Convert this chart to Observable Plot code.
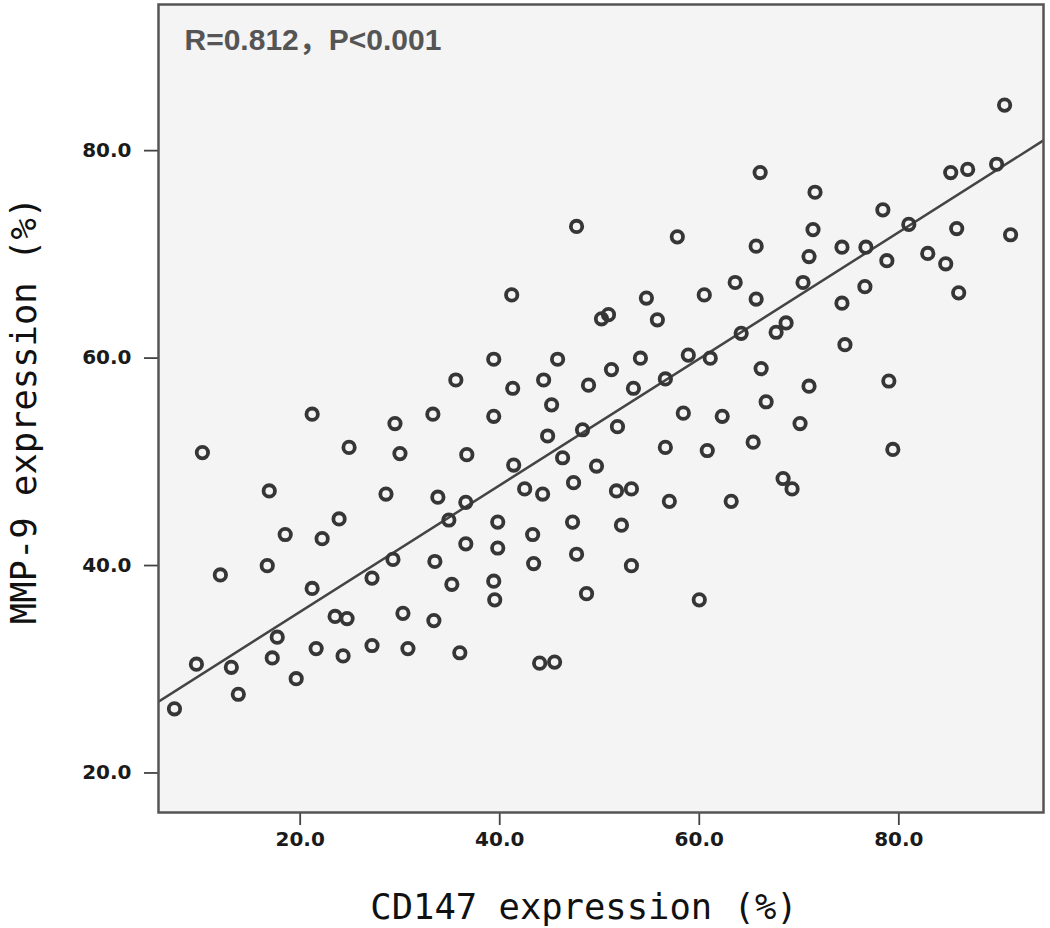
<!DOCTYPE html>
<html><head><meta charset="utf-8">
<script src="https://cdn.jsdelivr.net/npm/d3@7"></script>
<script src="https://cdn.jsdelivr.net/npm/@observablehq/plot@0.6"></script>
<style>body{margin:0;background:#fff}#chart{width:1050px;height:928px}</style>
</head><body><div id="chart"></div><script>
const cd147 = [7.4,9.6,13.1,13.8,12.0,10.2,16.7,16.9,18.5,21.2,22.2,23.9,24.9,19.6,17.2,17.7,21.2,21.6,23.5,24.7,24.3,27.2,27.2,29.3,29.5,30.0,30.3,30.8,33.3,33.4,33.5,33.8,34.9,35.2,35.6,36.0,36.7,36.6,36.6,39.4,39.4,39.8,39.8,39.4,39.5,41.2,41.3,41.4,42.5,43.3,43.4,44.0,45.5,44.4,44.8,45.2,45.8,46.3,47.4,47.3,47.7,47.7,48.3,48.7,48.9,49.7,50.2,50.9,51.2,51.8,51.7,52.2,53.2,53.2,53.4,54.1,54.7,55.8,56.6,56.6,57.0,57.8,58.4,58.9,60.0,60.5,60.8,61.1,62.3,63.2,63.6,64.2,65.4,65.7,65.7,66.1,66.2,66.7,67.7,68.4,68.7,69.3,70.1,70.4,71.0,71.0,71.4,71.6,74.3,74.3,74.6,76.6,76.7,78.4,78.8,79.0,79.4,81.0,82.9,84.7,85.2,85.8,86.0,86.9,89.8,90.6,91.2,28.6,44.3];
const mmp9 = [25.9,30.2,29.9,27.3,38.8,50.6,39.7,46.9,42.7,54.3,42.3,44.2,51.1,28.8,30.8,32.8,37.5,31.7,34.8,34.6,31.0,38.5,32.0,40.3,53.4,50.5,35.1,31.7,54.3,34.4,40.1,46.3,44.1,37.9,57.6,31.3,50.4,45.8,41.8,59.6,54.1,43.9,41.4,38.2,36.4,65.8,56.8,49.4,47.1,42.7,39.9,30.3,30.4,57.6,52.2,55.2,59.6,50.1,47.7,43.9,72.4,40.8,52.8,37.0,57.1,49.3,63.5,63.9,58.6,53.1,46.9,43.6,39.7,47.1,56.8,59.7,65.5,63.4,57.7,51.1,45.9,71.4,54.4,60.0,36.4,65.8,50.8,59.7,54.1,45.9,67.0,62.1,51.6,65.4,70.5,77.6,58.7,55.5,62.2,48.1,63.1,47.1,53.4,67.0,57.0,69.5,72.1,75.7,65.0,70.4,61.0,66.6,70.4,74.0,69.1,57.5,50.9,72.6,69.8,68.8,77.6,72.2,66.0,77.9,78.4,84.1,71.6,46.6,46.6];
// fit line as shown in the figure (intercept, slope)
const fitIntercept = 23.05;
const fitSlope = 0.61;
const xTicks = [20, 40, 60, 80];
const yTicks = [20, 40, 60, 80];
const statText = "R=0.812，P<0.001";
const xLabel = "CD147 expression (%)";
const yLabel = "MMP-9 expression (%)";

const points = cd147.map((x, i) => ({x, y: mmp9[i]}));
const xDomain = [5.8, 94.5];
const yDomain = [15.9, 93.8];
const fitLine = xDomain.map(x => ({x, y: fitIntercept + fitSlope * x}));

const mono = "'DejaVu Sans Mono', 'Liberation Mono', monospace";
const tickFont = "'DejaVu Sans', 'Liberation Sans', sans-serif";

const chart = Plot.plot({
  width: 1050, height: 928,
  marginLeft: 158, marginRight: 7, marginTop: 4, marginBottom: 116,
  style: {background: "#fff", color: "#222"},
  x: {domain: xDomain},
  y: {domain: yDomain},
  marks: [
    Plot.frame({fill: "#f4f4f4", stroke: "none"}),
    Plot.axisX({ticks: xTicks, tickFormat: d => d.toFixed(1), tickSize: 13, tickPadding: 6,
      fontSize: 20, fontWeight: "bold", fontFamily: tickFont, stroke: "#444", strokeWidth: 1.8, fill: "#1a1a1a", label: null}),
    Plot.axisY({ticks: yTicks, tickFormat: d => d.toFixed(1), tickSize: 14, tickPadding: 13, dy: 3,
      fontSize: 20, fontWeight: "bold", fontFamily: tickFont, stroke: "#444", strokeWidth: 1.8, fill: "#1a1a1a", label: null}),
    Plot.line(fitLine, {x: "x", y: "y", stroke: "#444", strokeWidth: 2.5, clip: true}),
    Plot.dot(points, {x: "x", y: "y", r: 5.7, stroke: "#363636", strokeWidth: 3.8, fill: "none"}),
    Plot.frame({stroke: "#555", strokeWidth: 2.5}),
    Plot.text([statText], {frameAnchor: "top-left", dx: 26, dy: 36, textAnchor: "start", lineAnchor: "middle",
      fontSize: 30, fontFamily: "'Liberation Sans', 'Noto Sans CJK SC', sans-serif", fontWeight: "bold", fill: "#555"}),
    Plot.text([xLabel], {frameAnchor: "bottom", dx: -17, dy: 95, textAnchor: "middle", lineAnchor: "middle",
      fontSize: 35.5, fontFamily: mono, fill: "#111"}),
    Plot.text([yLabel], {frameAnchor: "left", dx: -134, dy: 2, rotate: -90, textAnchor: "middle", lineAnchor: "middle",
      fontSize: 35.5, fontFamily: mono, fill: "#111"})
  ]
});
document.getElementById("chart").append(chart);
</script></body></html>
